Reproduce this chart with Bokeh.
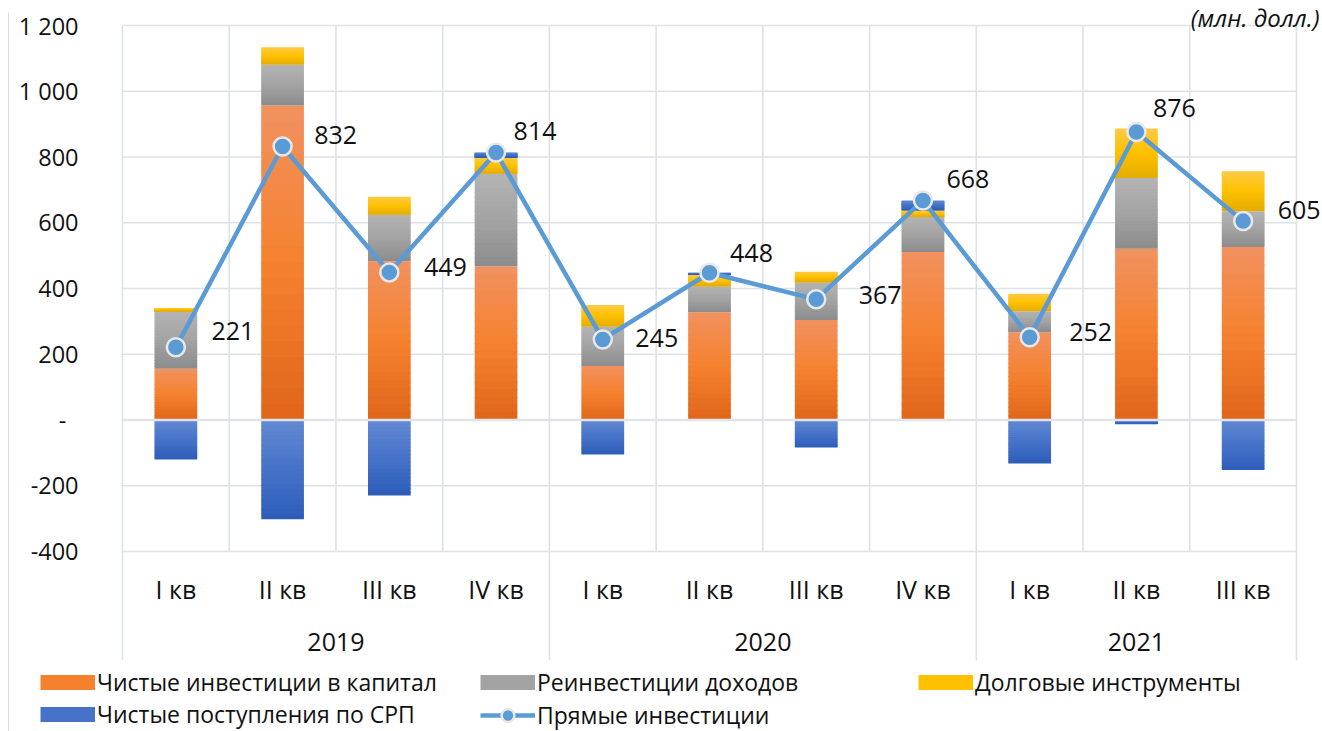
import numpy as np
from bokeh.plotting import figure
from bokeh.models import ColumnDataSource, Range1d, Legend, LegendItem, LabelSet
from bokeh.core.properties import value
from bokeh.embed import file_html
from bokeh.resources import INLINE

# ---------------- data ----------------
years = ["2019", "2020", "2021"]
quarters_per_year = [4, 4, 3]
quarters = ["I кв", "II кв", "III кв", "IV кв",
            "I кв", "II кв", "III кв", "IV кв",
            "I кв", "II кв", "III кв"]
equity = [156, 957, 483, 467, 164, 328, 304, 511, 267, 521, 526]     # Чистые инвестиции в капитал
reinvest = [175, 124, 141, 282, 120, 79, 115, 107, 64, 215, 109]     # Реинвестиции доходов
debt = [10, 53, 55, 50, 66, 36, 32, 20, 53, 151, 122]                # Долговые инструменты
srp = [-120, -302, -230, 15, -105, 5, -84, 30, -132, -11, -152]      # Чистые поступления по СРП
direct = [221, 832, 449, 814, 245, 448, 367, 668, 252, 876, 605]     # Прямые инвестиции
y_ticks = [-400, -200, 0, 200, 400, 600, 800, 1000, 1200]
y_tick_labels = ["-400", "-200", "-\u00a0\u00a0", "200", "400", "600", "800", "1 000", "1 200"]
series_names = ["Чистые инвестиции в капитал", "Реинвестиции доходов",
                "Долговые инструменты", "Чистые поступления по СРП"]
line_name = "Прямые инвестиции"
unit_note = "(млн. долл.)"

# ---------------- styles / layout ----------------
FONT = "Open Sans"
TEXT = "#111111"
GRID = "#DDE1E8"
ORANGE = ("#F1925F", "#F5812F", "#E0661A")
GRAY = ("#B4B4B4", "#A3A3A3", "#8C8C8C")
YELLOW = ("#FFCB45", "#FFC000", "#E3AC00")
BLUE = ("#6388D1", "#4673C9", "#2D5DB9")
LINE = "#5B9BD5"
label_dx = [57, 53, 56, 39, 54, 42, 64, 45, 61, 38, 56]
label_dy = [-16, -11, -5, -21, -1, -20, -4, -21, -5, -24, -11]

W, H = 1322, 731
PLOT_L, PLOT_R = 122, 1296     # px of outer category boundaries
PLOT_T, PLOT_B = 25, 551       # px of top / bottom y tick
AXIS_B = 660                   # px of bottom of category area
n = len(quarters)
px_cat = (PLOT_R - PLOT_L) / n
y_min, y_max = min(y_ticks), max(y_ticks)
px_unit = (PLOT_B - PLOT_T) / (y_max - y_min)


def X(px):
    return (px - PLOT_L) / px_cat


def Y(py):
    return y_min - (py - PLOT_B) / px_unit


p = figure(width=W, height=H, output_backend="svg", toolbar_location=None,
           x_range=Range1d(X(0), X(W)), y_range=Range1d(Y(H), Y(0)),
           x_axis_location=None, y_axis_location=None,
           min_border_left=0, min_border_right=0, min_border_top=0, min_border_bottom=0)
p.outline_line_color = None
p.grid.visible = False
p.background_fill_color = "white"
p.border_fill_color = "white"

xc = np.arange(n) + 0.5
bounds = np.cumsum([0] + quarters_per_year)

# chart border (left)
p.segment(x0=[X(8)], x1=[X(8)], y0=[Y(12)], y1=[Y(H)], line_color="#D9D9D9", line_width=1)

# grid
p.segment(x0=[0] * len(y_ticks), x1=[n] * len(y_ticks), y0=y_ticks, y1=y_ticks,
          line_color=GRID, line_width=1.6)
inner = [b for b in range(1, n) if b not in bounds]
p.segment(x0=inner, x1=inner, y0=[y_min] * len(inner), y1=[y_max] * len(inner),
          line_color=GRID, line_width=1.6)
p.segment(x0=list(bounds), x1=list(bounds), y0=[Y(AXIS_B)] * len(bounds),
          y1=[y_max] * len(bounds), line_color=GRID, line_width=1.6)


def hex2rgb(h):
    h = h.lstrip("#")
    return np.array([int(h[i:i + 2], 16) for i in (0, 2, 4)], dtype=float)


def grad(stops, u):
    a, b, c = [hex2rgb(s) for s in stops]
    col = a + (b - a) * (u / 0.5) if u <= 0.5 else b + (c - b) * ((u - 0.5) / 0.5)
    return "#%02x%02x%02x" % tuple(int(round(v)) for v in col)


NS = 20
ov = 0.8 / px_unit
base = np.zeros(n)
for vals, stops in zip([equity, reinvest, debt, srp], [ORANGE, GRAY, YELLOW, BLUE]):
    v = np.array(vals, dtype=float)
    b = np.where(v >= 0, base, v)
    t = np.where(v >= 0, base + v, 0.0)
    base = base + np.clip(v, 0, None)
    xs, tops, bots, cols = [], [], [], []
    for i in range(n):
        for k in range(NS):
            u = (k + 0.5) / NS
            top_k = t[i] - (t[i] - b[i]) * k / NS
            bot_k = t[i] - (t[i] - b[i]) * (k + 1) / NS
            if k < NS - 1:
                bot_k -= ov
            xs.append(xc[i]); tops.append(top_k); bots.append(bot_k); cols.append(grad(stops, u))
    src = ColumnDataSource(dict(x=xs, top=tops, bottom=bots, color=cols))
    p.vbar(x="x", top="top", bottom="bottom", width=0.4, fill_color="color",
           line_color=None, source=src)

# zero (category) axis line
p.segment(x0=[0], x1=[n], y0=[0], y1=[0], line_color="#E0E3E8", line_width=2.5)

lr = p.line(xc, direct, line_color=LINE, line_width=4.5)
sr = p.scatter(xc, direct, size=18, fill_color=LINE, line_color="#E8E8E8", line_width=2.5)

lab_src = ColumnDataSource(dict(x=xc, y=direct, text=[str(v) for v in direct],
                                dx=label_dx, dy=[-d for d in label_dy]))
p.add_layout(LabelSet(x="x", y="y", text="text", x_offset="dx", y_offset="dy", source=lab_src,
                      text_font=value(FONT), text_font_size="25px", text_align="center",
                      text_baseline="middle", text_color=TEXT))

# y tick labels
p.text(x=[X(78)] * len(y_ticks), y=y_ticks, text=y_tick_labels, text_font=value(FONT),
       text_font_size=value("23.5px"), text_align="right", text_baseline="middle",
       text_color=TEXT)

# category labels
p.text(x=xc, y=[Y(588)] * n, text=quarters, text_font=value(FONT),
       text_font_size=value("25px"), text_align="center", text_baseline="middle",
       text_color=TEXT)
ycen = [(bounds[i] + bounds[i + 1]) / 2 for i in range(len(years))]
p.text(x=ycen, y=[Y(641)] * len(years), text=years, text_font=value(FONT),
       text_font_size=value("25px"), text_align="center", text_baseline="middle",
       text_color=TEXT)

# unit note
p.text(x=[X(1319)], y=[Y(17)], text=[unit_note], text_font=value(FONT),
       text_font_style="italic", text_font_size=value("24px"), text_align="right",
       text_baseline="alphabetic", text_color=TEXT)

# legend swatches: thick lines placed outside the visible area (legend only)
swatches = []
for stops in [ORANGE, GRAY, YELLOW, BLUE]:
    swatches.append(p.line(x=[X(-300), X(-200)], y=[0, 0], line_color=stops[1], line_width=15))


def add_legend(item, sx, row_center, gw, gh):
    lg = Legend(items=[item], location=(sx, H - (row_center + gh / 2)), orientation="vertical",
                glyph_width=gw, glyph_height=gh, label_height=gh, label_standoff=2,
                padding=0, margin=0, spacing=0, border_line_alpha=0, background_fill_alpha=0,
                label_text_font=FONT, label_text_font_size="23px", label_text_color=TEXT)
    p.add_layout(lg)


ROW1, ROW2 = 683, 715
add_legend(LegendItem(label=series_names[0], renderers=[swatches[0]]), 40, ROW1, 55, 30)
add_legend(LegendItem(label=series_names[1], renderers=[swatches[1]]), 480, ROW1, 55, 30)
add_legend(LegendItem(label=series_names[2], renderers=[swatches[2]]), 918, ROW1, 55, 30)
add_legend(LegendItem(label=series_names[3], renderers=[swatches[3]]), 40, ROW2, 55, 30)
add_legend(LegendItem(label=line_name, renderers=[lr, sr]), 480, ROW2, 55, 32)

open("out.html", "w").write(file_html(p, INLINE))
